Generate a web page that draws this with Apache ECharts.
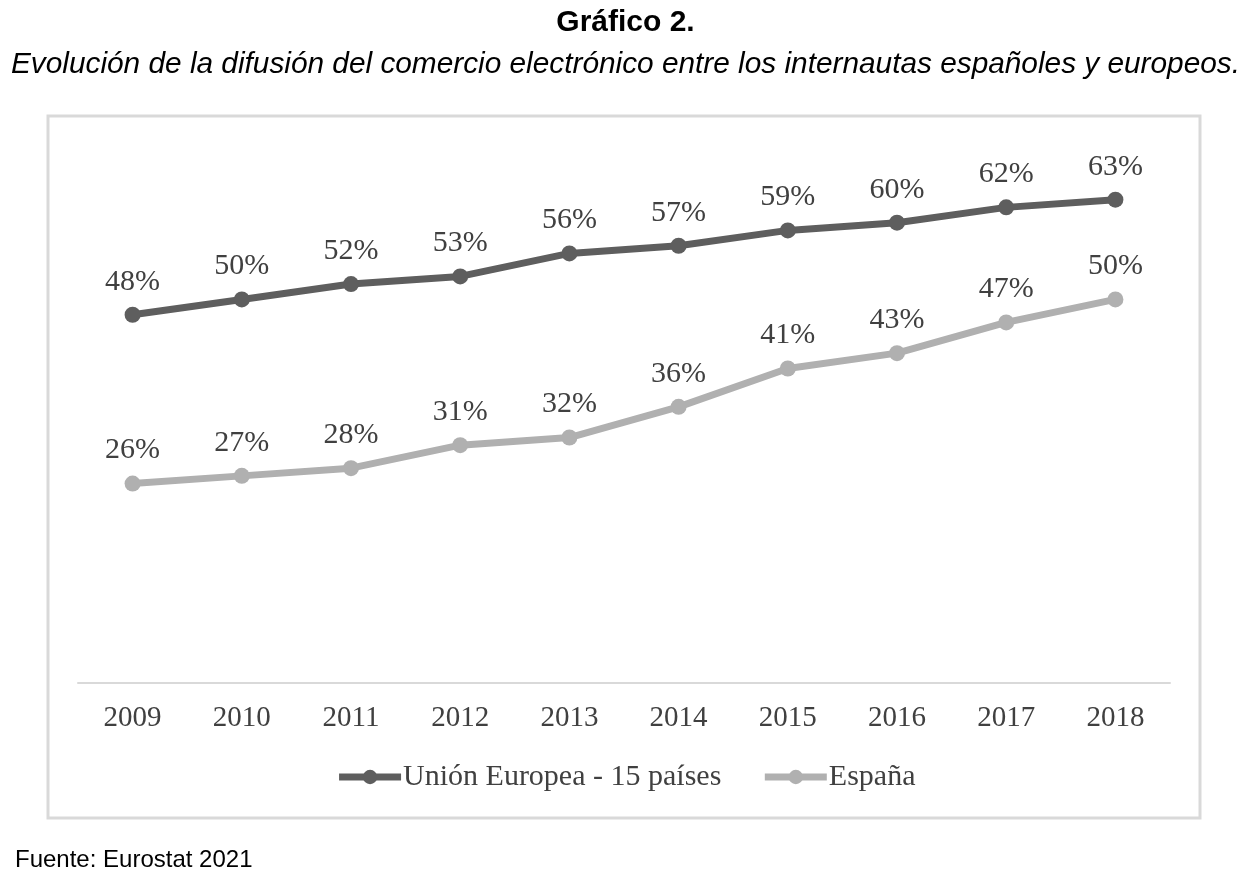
<!DOCTYPE html>
<html>
<head>
<meta charset="utf-8">
<script src="https://cdn.jsdelivr.net/npm/echarts@6/dist/echarts.min.js"></script>
<style>
  html, body { margin: 0; padding: 0; background: #fff; }
  #chart { width: 1251px; height: 875px; }
</style>
</head>
<body>
<div id="chart"></div>
<script>
const years = ['2009', '2010', '2011', '2012', '2013', '2014', '2015', '2016', '2017', '2018']
const ueValues = [48, 50, 52, 53, 56, 57, 59, 60, 62, 63]
const espValues = [26, 27, 28, 31, 32, 36, 41, 43, 47, 50]
const seriesNames = ['Unión Europea - 15 países', 'España']

const serif = '"Liberation Serif", "DejaVu Serif", serif'
const sans = '"Liberation Sans", Arial, sans-serif'

const chart = echarts.init(document.getElementById('chart'))

const makeSeries = (name, data, color) => {
    return {
        name: name,
        type: 'line',
        data: data,
        symbol: 'circle',
        symbolSize: 16,
        lineStyle: { color: color, width: 7 },
        itemStyle: { color: color },
        label: {
            show: true,
            position: 'top',
            distance: 10,
            formatter: '{c}%',
            fontFamily: serif,
            fontSize: 30,
            color: '#404040'
        },
        emphasis: { disabled: true }
    }
}

chart.setOption({
    animation: false,
    title: [
        {
            text: 'Gráfico 2.',
            left: 'center',
            top: 3,
            textStyle: { fontFamily: sans, fontSize: 30, fontWeight: 'bold', color: '#000' }
        },
        {
            text: 'Evolución de la difusión del comercio electrónico entre los internautas españoles y europeos.',
            left: 'center',
            top: 45,
            textStyle: { fontFamily: sans, fontSize: 29.8, fontStyle: 'italic', fontWeight: 'normal', color: '#000' }
        },
        {
            text: 'Fuente: Eurostat 2021',
            left: 10,
            top: 843,
            textStyle: { fontFamily: sans, fontSize: 24, fontWeight: 'normal', color: '#000' }
        }
    ],
    graphic: [
        {
            type: 'rect',
            shape: { x: 48, y: 116, width: 1152, height: 702 },
            style: { fill: 'none', stroke: '#d9d9d9', lineWidth: 3 },
            silent: true
        }
    ],
    legend: {
        data: seriesNames,
        bottom: 78,
        left: 'center',
        itemWidth: 62,
        itemHeight: 18,
        itemGap: 40,
        lineStyle: { width: 7 },
        textStyle: { fontFamily: serif, fontSize: 30, color: '#404040', padding: [0, 0, 0, -3] }
    },
    grid: { left: 78, right: 81, top: 146, bottom: 192 },
    xAxis: {
        type: 'category',
        data: years,
        axisLine: { lineStyle: { color: '#d9d9d9', width: 2 } },
        axisTick: { show: false },
        axisLabel: { fontFamily: serif, fontSize: 29, color: '#404040', margin: 21 }
    },
    yAxis: {
        type: 'value',
        min: 0,
        max: 70,
        interval: 10,
        show: false,
        splitLine: { show: false }
    },
    series: [
        makeSeries(seriesNames[0], ueValues, '#5e5e5e'),
        makeSeries(seriesNames[1], espValues, '#b0b0b0')
    ]
})
</script>
</body>
</html>
